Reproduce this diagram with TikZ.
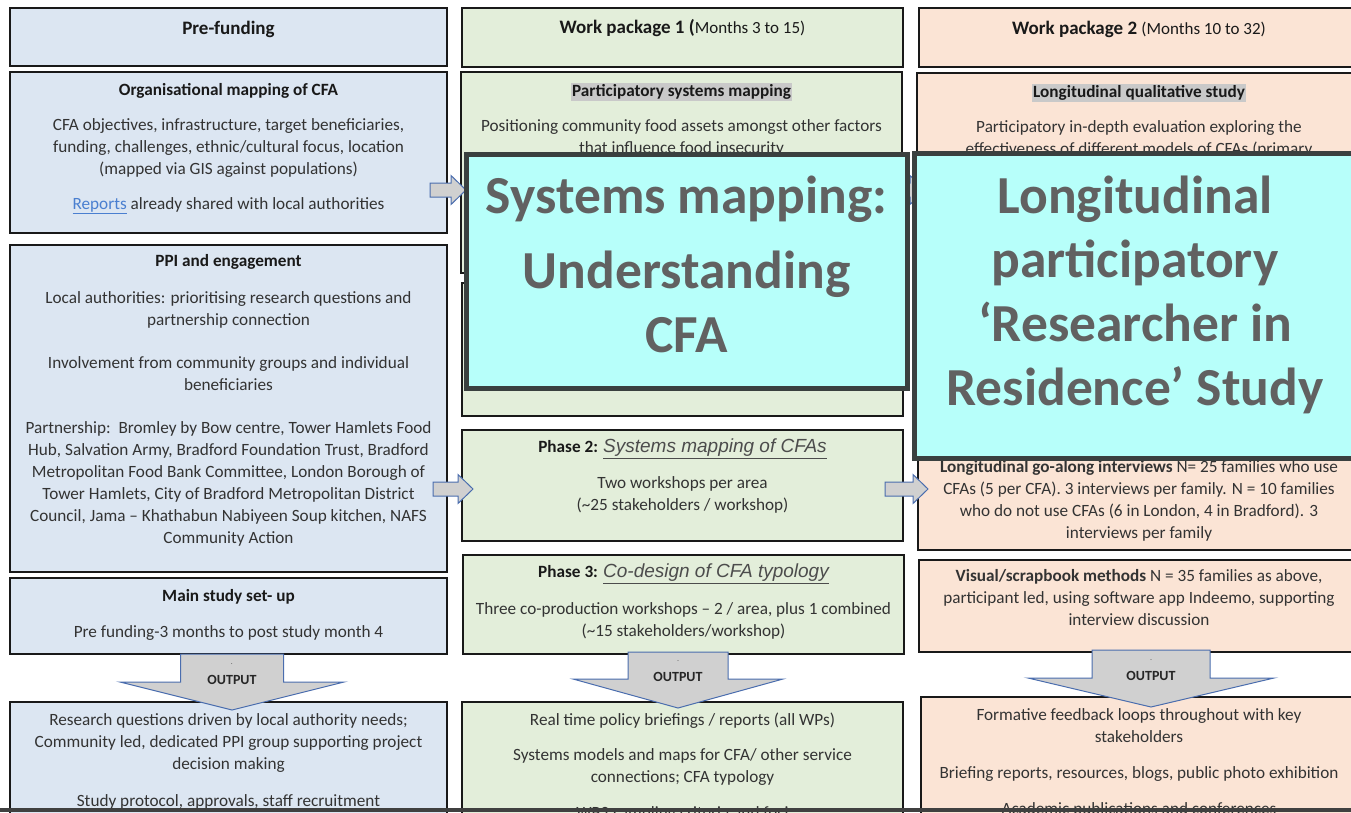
\documentclass[tikz,border=0pt]{standalone}
\usepackage{fontspec}
\setmainfont{Carlito}
\newfontfamily\arialfont{Liberation Sans}
\usetikzlibrary{positioning}
\definecolor{pfblue}{HTML}{DCE6F2}
\definecolor{wpgreen}{HTML}{E3EEDA}
\definecolor{wppeach}{HTML}{FBE4D5}
\definecolor{cyanbox}{HTML}{B7FFFA}
\definecolor{cyanedge}{HTML}{3A403F}
\definecolor{bigtext}{HTML}{616161}
\definecolor{arrowgray}{HTML}{D0D0D0}
\definecolor{arrowblue}{HTML}{4A6DAE}
\definecolor{linkblue}{HTML}{4A7FD0}
\definecolor{hlgray}{HTML}{C9C9C9}
\tikzset{
  panel/.style={draw=black!90, line width=1.8pt, inner sep=0pt, outer sep=0pt},
  overlay/.style={draw=cyanedge, line width=5pt, fill=cyanbox, inner sep=0pt, outer sep=0pt},
  body/.style={font=\fontsize{17.2}{22}\selectfont, text=black!80, align=center, inner sep=0pt},
  heading/.style={font=\bfseries\fontsize{17.2}{22}\selectfont, text=black!90, align=center, inner sep=0pt},
  marked/.style={heading, fill=hlgray, inner sep=1.5pt},
  colhead/.style={font=\bfseries\fontsize{19}{22}\selectfont, text=black!90, inner sep=0pt},
  bigtext/.style={font=\bfseries\fontsize{53.5}{64}\selectfont, text=bigtext, align=center, inner sep=0pt},
  blockarrow/.style={draw=arrowblue, line width=1pt, fill=arrowgray},
  outlabel/.style={font=\bfseries\fontsize{14}{16}\selectfont, text=black!85, inner sep=0pt},
}
\def\panel#1#2#3#4#5#6{
  % 1: name
  % 2: x left
  % 3: y top
  % 4: x right
  % 5: y bottom
  % 6: style
  \node[#6, anchor=north west, minimum width=#4pt-#2pt, minimum height=#5pt-#3pt] (#1) at (#2,#3) {};
}
\def\outarrow#1#2#3#4#5#6#7{
  % 1: name
  % 2: x centre
  % 3: y top
  % 4: half shaft
  % 5: half head
  % 6: y head
  % 7: y tip
  \draw[blockarrow] (#2-#4,#3) -- (#2+#4,#3) -- (#2+#4,#6) -- (#2+#5,#6) -- (#2,#7)
    -- (#2-#5,#6) -- (#2-#4,#6) -- cycle;
  \node[font=\fontsize{6}{6}\selectfont, inner sep=0pt] (#1-dot) at (#2,#6-18) {.};
  \node[outlabel] (#1) at (#2,#6-2) {OUTPUT};
}
\def\sidearrow#1#2#3{
  % 1: x start
  % 2: x tip
  % 3: y
  \draw[blockarrow] (#1,#3-7) -- (#2-15,#3-7) -- (#2-15,#3-14.5) -- (#2,#3)
    -- (#2-15,#3+14.5) -- (#2-15,#3+7) -- (#1,#3+7) -- cycle;
}
\begin{document}
\begin{tikzpicture}[x=1pt,y=-1pt]
  \useasboundingbox (0,0) rectangle (1351,812);
  \clip (0,0) rectangle (1351,812);

  % pre-funding column
  \panel{pf}{10}{8}{447}{66}{panel, fill=pfblue}
  \panel{org}{10}{72}{447}{233}{panel, fill=pfblue}
  \panel{ppi}{10}{245}{447}{572}{panel, fill=pfblue}
  \panel{setup}{10}{578}{447}{654}{panel, fill=pfblue}
  \panel{outl}{10}{702}{447}{830}{panel, fill=pfblue}

  \node[colhead, below=12.5pt of pf.north] (pf-t) {Pre-funding};
  \node[heading, below=11pt of org.north] (org-h) {Organisational mapping of CFA};
  \node[body, below=46pt of org.north] (org-t) {CFA objectives, infrastructure, target beneficiaries,\\
    funding, challenges, ethnic/cultural focus, location\\
    (mapped via GIS against populations)\\[13pt]
    \textcolor{linkblue}{\underline{Reports}} already shared with local authorities};
  \node[heading, below=9pt of ppi.north] (ppi-h) {PPI and engagement};
  \node[body, below=46pt of ppi.north] (ppi-t) {Local authorities: prioritising research questions and\\
    partnership connection\\[21pt]
    Involvement from community groups and individual\\
    beneficiaries\\[21pt]
    Partnership:\ \ Bromley by Bow centre, Tower Hamlets Food\\
    Hub, Salvation Army, Bradford Foundation Trust, Bradford\\
    Metropolitan Food Bank Committee, London Borough of\\
    Tower Hamlets, City of Bradford Metropolitan District\\
    Council, Jama – Khathabun Nabiyeen Soup kitchen, NAFS\\
    Community Action};
  \node[heading, below=11pt of setup.north] (setup-h) {Main study set- up};
  \node[body, below=47pt of setup.north] (setup-t) {Pre funding-3 months to post study month 4};
  \node[body, below=11pt of outl.north] (outl-t) {Research questions driven by local authority needs;\\
    Community led, dedicated PPI group supporting project\\
    decision making\\[15pt]
    Study protocol, approvals, staff recruitment};

  % work package 1 column
  \panel{wp1}{462}{8}{903}{67}{panel, fill=wpgreen}
  \panel{sysmap}{461}{72}{902}{273}{panel, fill=wpgreen}
  \panel{phase1}{462}{283}{903}{416}{panel, fill=wpgreen}
  \panel{phase2}{462}{430}{903}{541}{panel, fill=wpgreen}
  \panel{phase3}{463}{555}{904}{654}{panel, fill=wpgreen}
  \panel{outm}{462}{702}{903}{830}{panel, fill=wpgreen}

  \node[colhead, below=11.5pt of wp1.north] (wp1-t) {Work package 1 ({\mdseries\fontsize{17}{22}\selectfont Months 3 to 15)}};
  \node[marked, below=11pt of sysmap.north] (sysmap-h) {Participatory systems mapping};
  \node[body, below=47pt of sysmap.north] (sysmap-t) {Positioning community food assets amongst other factors\\
    that influence food insecurity};
  \node[heading, below=8.5pt of phase2.north] (phase2-h) {Phase 2: {\arialfont\mdseries\itshape\fontsize{19}{22}\selectfont\color{black!70}\underline{Systems mapping of CFAs}}};
  \node[body, below=46.5pt of phase2.north] (phase2-t) {Two workshops per area\\
    (\textasciitilde 25 stakeholders / workshop)};
  \node[heading, below=8.5pt of phase3.north] (phase3-h) {Phase 3: {\arialfont\mdseries\itshape\fontsize{19}{22}\selectfont\color{black!70}\underline{Co-design of CFA typology}}};
  \node[body, below=47.5pt of phase3.north] (phase3-t) {Three co-production workshops – 2 / area, plus 1 combined\\
    (\textasciitilde 15 stakeholders/workshop)};
  \node[body, below=11pt of outm.north] (outm-t) {Real time policy briefings / reports (all WPs)\\[13pt]
    Systems models and maps for CFA/ other service\\
    connections; CFA typology\\[14pt]
    WP2 sampling criteria and foci};

  % work package 2 column
  \panel{wp2}{919}{8}{1360}{67}{panel, fill=wppeach}
  \panel{qual}{917}{73}{1360}{430}{panel, fill=wppeach}
  \panel{goalong}{918}{436}{1360}{550}{panel, fill=wppeach}
  \panel{visual}{919}{560}{1360}{652}{panel, fill=wppeach}
  \panel{outr}{921}{697}{1360}{830}{panel, fill=wppeach}

  \node[colhead] (wp2-t) at (1139,29) {Work package 2 {\mdseries\fontsize{17}{22}\selectfont (Months 10 to 32)}};
  \node[marked] (qual-h) at (1139,93) {Longitudinal qualitative study};
  \node[body, anchor=north] (qual-t) at (1139,120) {Participatory in-depth evaluation exploring the\\
    effectiveness of different models of CFAs (primary};
  \node[body, anchor=north] (goalong-t) at (1139,460.5) {\textbf{Longitudinal go-along interviews} N= 25 families who use\\
    CFAs (5 per CFA). 3 interviews per family. N = 10 families\\
    who do not use CFAs (6 in London, 4 in Bradford). 3\\
    interviews per family};
  \node[body, anchor=north] (visual-t) at (1139,569.5) {\textbf{Visual/scrapbook methods} N = 35 families as above,\\
    participant led, using software app Indeemo, supporting\\
    interview discussion};
  \node[body, anchor=north] (outr-t) at (1139,708.5) {Formative feedback loops throughout with key\\
    stakeholders\\[14pt]
    Briefing reports, resources, blogs, public photo exhibition\\[14pt]
    Academic publications and conferences};

  % block arrows
  \sidearrow{430}{466}{190}
  \sidearrow{890}{925}{190}
  \sidearrow{433}{473}{489}
  \sidearrow{885}{928}{489}
  \outarrow{outp-l}{232}{654}{51.5}{112}{682}{710}
  \outarrow{outp-m}{678}{652}{50}{105}{679}{708}
  \outarrow{outp-r}{1151}{650}{59}{123}{678}{707}

  % overlays
  \panel{sysov}{466}{154}{907}{388}{overlay}
  \panel{rirov}{914}{153}{1365}{458}{overlay}
  \node[bigtext, below=22pt of sysov.north] (sysov-t) {Systems mapping:\\[11pt]Understanding\\CFA};
  \node[bigtext, anchor=north] (rirov-t) at (1135,176) {Longitudinal\\participatory\\‘Researcher in\\Residence’ Study};

  \draw[line width=4pt, black!75] (0,810) -- (1351,810);
\end{tikzpicture}
\end{document}
